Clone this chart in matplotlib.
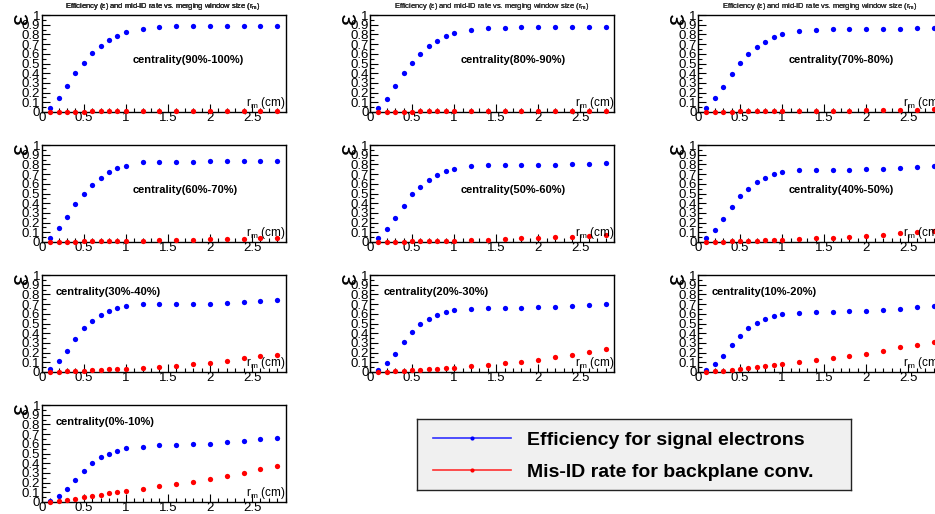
"""Efficiency and mis-ID rate vs merging window size, per centrality bin."""

import matplotlib
matplotlib.use("Agg")
import matplotlib.pyplot as plt
from matplotlib.lines import Line2D

plt.rcParams["font.family"] = ["Liberation Sans", "DejaVu Sans"]
plt.rcParams["mathtext.fontset"] = "custom"
plt.rcParams["mathtext.rm"] = "Liberation Sans"
plt.rcParams["mathtext.it"] = "Liberation Sans:italic"

# ---- data ------------------------------------------------------------------
r_m = [0.1, 0.2, 0.3, 0.4, 0.5, 0.6, 0.7, 0.8, 0.9, 1.0,
       1.2, 1.4, 1.6, 1.8, 2.0, 2.2, 2.4, 2.6, 2.8]

centralities = ["90%-100%", "80%-90%", "70%-80%", "60%-70%", "50%-60%",
                "40%-50%", "30%-40%", "20%-30%", "10%-20%", "0%-10%"]

eff_90_100 = [0.04, 0.14, 0.27, 0.40, 0.51, 0.61, 0.68, 0.74, 0.78, 0.82,
              0.86, 0.875, 0.885, 0.885, 0.885, 0.885, 0.885, 0.89, 0.89]
eff_80_90 = [0.04, 0.13, 0.27, 0.40, 0.51, 0.60, 0.68, 0.73, 0.78, 0.81,
             0.85, 0.865, 0.87, 0.875, 0.875, 0.875, 0.875, 0.88, 0.88]
eff_70_80 = [0.04, 0.14, 0.26, 0.39, 0.51, 0.60, 0.67, 0.72, 0.77, 0.80,
             0.84, 0.85, 0.855, 0.86, 0.86, 0.86, 0.86, 0.865, 0.865]
eff_60_70 = [0.04, 0.14, 0.26, 0.39, 0.50, 0.59, 0.66, 0.72, 0.76, 0.78,
             0.82, 0.825, 0.825, 0.825, 0.83, 0.83, 0.835, 0.835, 0.84]
eff_50_60 = [0.04, 0.13, 0.25, 0.37, 0.49, 0.57, 0.64, 0.69, 0.73, 0.75,
             0.78, 0.79, 0.79, 0.79, 0.79, 0.795, 0.80, 0.805, 0.81]
eff_40_50 = [0.04, 0.12, 0.24, 0.36, 0.47, 0.55, 0.62, 0.66, 0.70, 0.72,
             0.74, 0.745, 0.745, 0.745, 0.75, 0.755, 0.76, 0.77, 0.78]
eff_30_40 = [0.03, 0.11, 0.22, 0.34, 0.45, 0.53, 0.59, 0.63, 0.66, 0.68,
             0.70, 0.70, 0.70, 0.70, 0.705, 0.715, 0.72, 0.73, 0.74]
eff_20_30 = [0.02, 0.09, 0.19, 0.31, 0.41, 0.49, 0.55, 0.59, 0.62, 0.635,
             0.65, 0.66, 0.66, 0.66, 0.665, 0.67, 0.68, 0.69, 0.70]
eff_10_20 = [0.02, 0.08, 0.17, 0.28, 0.37, 0.45, 0.51, 0.55, 0.58, 0.60,
             0.61, 0.615, 0.62, 0.625, 0.63, 0.64, 0.65, 0.665, 0.68]
eff_0_10 = [0.015, 0.065, 0.135, 0.225, 0.32, 0.40, 0.46, 0.50, 0.53, 0.555,
            0.57, 0.585, 0.59, 0.595, 0.60, 0.615, 0.63, 0.645, 0.66]

misid_90_100 = [0.004, 0.005, 0.005, 0.005, 0.005, 0.006, 0.006, 0.006, 0.007, 0.007,
                0.008, 0.008, 0.008, 0.008, 0.008, 0.008, 0.009, 0.009, 0.009]
misid_80_90 = [0.004, 0.005, 0.005, 0.005, 0.005, 0.006, 0.006, 0.007, 0.007, 0.008,
               0.008, 0.009, 0.009, 0.010, 0.010, 0.011, 0.012, 0.013, 0.014]
misid_70_80 = [0.003, 0.004, 0.005, 0.005, 0.006, 0.007, 0.008, 0.008, 0.009, 0.010,
               0.011, 0.012, 0.014, 0.015, 0.017, 0.019, 0.022, 0.025, 0.028]
misid_60_70 = [0.002, 0.005, 0.005, 0.005, 0.008, 0.008, 0.010, 0.010, 0.012, 0.012,
               0.015, 0.018, 0.020, 0.025, 0.028, 0.032, 0.035, 0.040, 0.045]
misid_50_60 = [0.001, 0.003, 0.005, 0.005, 0.007, 0.008, 0.010, 0.012, 0.015, 0.015,
               0.020, 0.025, 0.030, 0.037, 0.043, 0.050, 0.055, 0.065, 0.075]
misid_40_50 = [0.001, 0.005, 0.005, 0.007, 0.010, 0.012, 0.015, 0.018, 0.022, 0.025,
               0.030, 0.038, 0.045, 0.055, 0.065, 0.075, 0.090, 0.105, 0.115]
misid_30_40 = [0.001, 0.005, 0.007, 0.010, 0.013, 0.017, 0.022, 0.027, 0.032, 0.035,
               0.045, 0.055, 0.065, 0.080, 0.090, 0.110, 0.140, 0.160, 0.180]
misid_20_30 = [0.001, 0.005, 0.010, 0.015, 0.020, 0.025, 0.030, 0.035, 0.040, 0.045,
               0.060, 0.075, 0.090, 0.105, 0.125, 0.150, 0.180, 0.210, 0.235]
misid_10_20 = [0.001, 0.008, 0.015, 0.025, 0.030, 0.040, 0.050, 0.065, 0.075, 0.085,
               0.100, 0.120, 0.140, 0.165, 0.190, 0.220, 0.255, 0.280, 0.305]
misid_0_10 = [0.001, 0.010, 0.020, 0.035, 0.050, 0.065, 0.075, 0.090, 0.100, 0.110,
              0.130, 0.160, 0.185, 0.210, 0.240, 0.270, 0.300, 0.345, 0.370]

eff_sets = [eff_90_100, eff_80_90, eff_70_80, eff_60_70, eff_50_60,
            eff_40_50, eff_30_40, eff_20_30, eff_10_20, eff_0_10]
misid_sets = [misid_90_100, misid_80_90, misid_70_80, misid_60_70, misid_50_60,
              misid_40_50, misid_30_40, misid_20_30, misid_10_20, misid_0_10]

x_ticks = [0, 0.5, 1, 1.5, 2, 2.5]
y_ticks = [0, 0.1, 0.2, 0.3, 0.4, 0.5, 0.6, 0.7, 0.8, 0.9, 1]
y_ticklabels = ["0", "0.1", "0.2", "0.3", "0.4", "0.5", "0.6", "0.7", "0.8", "0.9", "1"]

# ---- layout (pixels) -------------------------------------------------------
W, H = 935, 514
col_left = [41.7, 370, 698]
row_top = [15, 145, 275, 405]
ax_w, ax_h = 244, 97

fig = plt.figure(figsize=(W / 100, H / 100), dpi=100)
fig.patch.set_facecolor("white")

title = "Efficiency (ε) and mid-ID rate vs. merging window size (r$_{\\mathrm{m}}$)"

for i, (cent, eff, mis) in enumerate(zip(centralities, eff_sets, misid_sets)):
    r, c = divmod(i, 3)
    left, top = col_left[c], row_top[r]
    ax = fig.add_axes([left / W, 1 - (top + ax_h) / H, ax_w / W, ax_h / H])
    ax.plot(r_m, eff, "o", color="#0000ff", ms=3.8, mew=0, clip_on=False, zorder=3)
    ax.plot(r_m, mis, "o", color="#ff0000", ms=3.8, mew=0, clip_on=False, zorder=3)
    ax.set_xlim(0, 2.9)
    ax.set_ylim(0, 1)
    ax.set_xticks(x_ticks)
    ax.set_xticklabels([f"{t:g}" for t in x_ticks])
    ax.set_xticks([k / 10 for k in range(30)], minor=True)
    ax.set_yticks(y_ticks)
    ax.set_yticklabels(y_ticklabels)
    ax.set_yticks([k / 20 for k in range(21)], minor=True)
    ax.tick_params(direction="in", which="major", length=6, width=0.8,
                   labelsize=9.5, pad=1, top=False, right=False)
    ax.tick_params(direction="in", which="minor", length=3, width=0.8,
                   top=False, right=False)
    ax.tick_params(axis="x", pad=0)
    for s in ax.spines.values():
        s.set_linewidth(1.0)

    if i < 6:
        ax.text(1.08, 0.535, f"centrality({cent})", fontsize=8, fontweight="bold",
                ha="left", va="center")
    else:
        ax.text(0.16, 0.82, f"centrality({cent})", fontsize=8, fontweight="bold",
                ha="left", va="center")

    ax.text(1.0, 0.015, "r$_{\\mathrm{m}}$ (cm)", transform=ax.transAxes,
            ha="right", va="bottom", fontsize=8.5)

    fig.text((left - 41.7 + 163) / W, 1 - 7 / H, title, fontsize=5.4,
             color="#333333", ha="center", va="center")
    fig.text((left - 21) / W, 1 - (top + 4) / H, "ε", fontsize=19,
             rotation=90, ha="center", va="center")

# ---- legend ----------------------------------------------------------------
lx0, lx1, ly0, ly1 = 417, 851, 419, 490
lax = fig.add_axes([lx0 / W, 1 - ly1 / H, (lx1 - lx0) / W, (ly1 - ly0) / H])
lax.set_facecolor("#f0f0f0")
lax.set_xticks([])
lax.set_yticks([])
for s in lax.spines.values():
    s.set_linewidth(1.0)
    s.set_color("#222222")

handles = [
    Line2D([], [], color="#3030ff", lw=1.2, marker="o", ms=3, mew=0, mfc="#0000ff"),
    Line2D([], [], color="#ff3030", lw=1.2, marker="o", ms=3, mew=0, mfc="#ff0000"),
]
labels = ["Efficiency for signal electrons", "Mis-ID rate for backplane conv."]
lax.legend(handles, labels, loc="center left", bbox_to_anchor=(16 / (lx1 - lx0), 0.48),
           frameon=False, borderpad=0, borderaxespad=0,
           prop={"weight": "bold", "size": 14}, handlelength=4.0,
           handletextpad=0.82, labelspacing=0.74)

fig.savefig("out.png", dpi=100)
